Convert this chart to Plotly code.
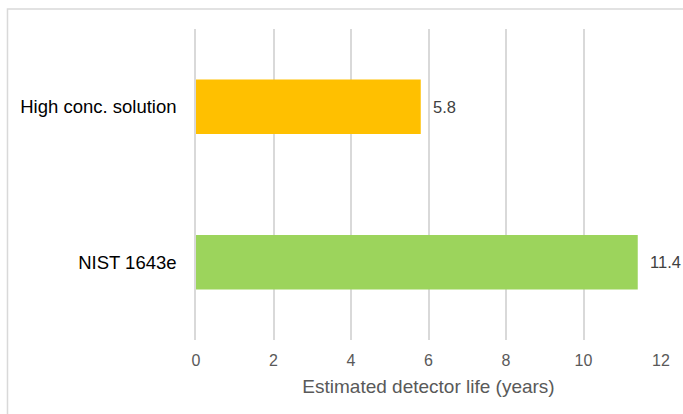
import plotly.graph_objects as go

categories = ["High conc. solution", "NIST 1643e"]
values = [5.8, 11.4]
colors = ["#FFC000", "#9CD45C"]
x_ticks = [0, 2, 4, 6, 8, 10, 12]
x_title = "Estimated detector life (years)"

FONT = "Liberation Sans, Arial"

fig = go.Figure()
fig.add_trace(go.Bar(
    y=categories, x=values, orientation="h",
    marker=dict(color=colors, line=dict(width=0)),
    width=0.35, hoverinfo="skip",
))

for c, v in zip(categories, values):
    fig.add_annotation(x=v, y=c, text=f"{v}", showarrow=False,
                       xanchor="left", xshift=10,
                       font=dict(family=FONT, size=16.5, color="#404040"))

# chart outer border
fig.add_shape(type="rect", xref="paper", yref="paper",
              x0=-0.4054, x1=1.2, y0=-0.4, y1=1.0643,
              line=dict(color="#D9D9D9", width=1.5), layer="below")

fig.update_layout(
    width=683, height=414,
    margin=dict(l=196, r=22, t=29, b=74),
    paper_bgcolor="white", plot_bgcolor="white",
    showlegend=False,
    font=dict(family=FONT, size=16, color="#595959"),
    xaxis=dict(range=[0, 12], tickvals=x_ticks, showgrid=True, gridcolor="#D9D9D9",
               gridwidth=1.5, zeroline=False, showline=False,
               tickfont=dict(size=16, color="#595959"),
               title=dict(text=x_title, font=dict(size=19, color="#595959"), standoff=11),
               ticks="outside", ticklen=6, tickcolor="rgba(0,0,0,0)", fixedrange=True),
    yaxis=dict(autorange="reversed", categoryorder="array", categoryarray=categories,
               tickfont=dict(size=18.5, color="#000000"), showgrid=False, zeroline=False,
               showline=True, linecolor="#D9D9D9", linewidth=1.5,
               ticks="outside", ticklen=14, tickcolor="rgba(0,0,0,0)", fixedrange=True),
)

fig.write_html("out.html", config={"displayModeBar": False},
               post_script="document.body.style.margin='0';document.body.style.overflow='hidden';")
